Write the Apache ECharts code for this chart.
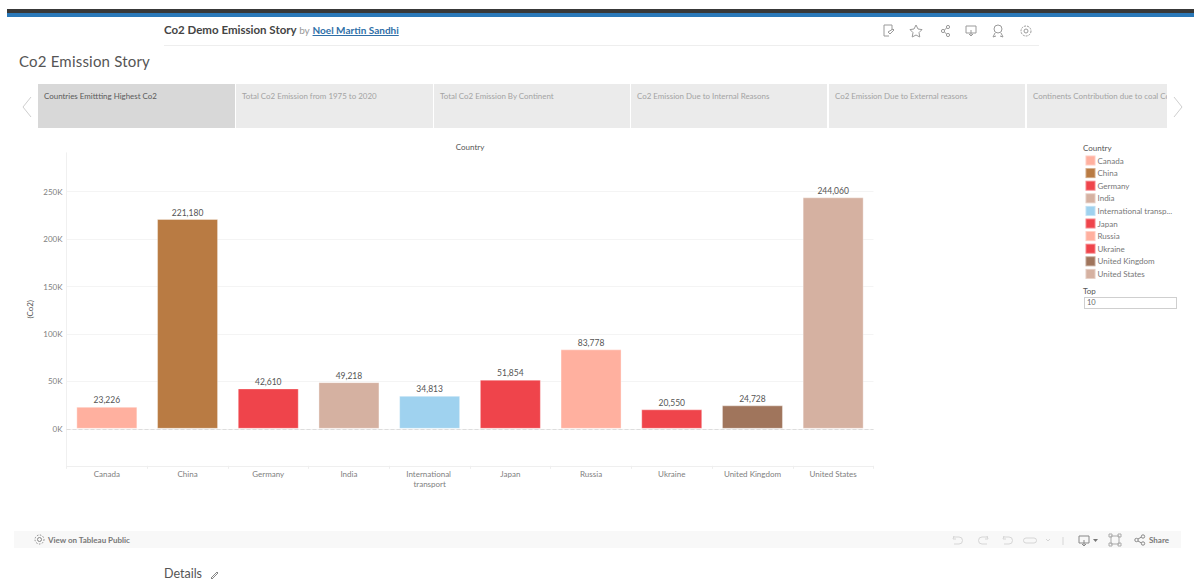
<!DOCTYPE html>
<html><head><meta charset="utf-8">
<script src="https://cdn.jsdelivr.net/npm/echarts@6/dist/echarts.min.js"></script>
<style>
html,body{margin:0;padding:0;background:#fff;width:1194px;height:581px;overflow:hidden;font-family:Lato,"Open Sans",sans-serif}
#chart{position:absolute;left:0;top:0;width:1194px;height:581px}
.a{position:absolute;white-space:nowrap}
.tab{position:absolute;top:84px;height:44px;background:#ebebeb;font-size:7.95px;color:#a3a3a3;box-sizing:border-box;padding:7px 0 0 6px;overflow:hidden;white-space:nowrap}
svg.i{position:absolute;fill:none;stroke:#9a9a9a;stroke-width:1}
</style></head><body>
<div id="chart"></div>
<div class="a" style="left:7px;top:9px;width:1187px;height:4px;background:#383838"></div>
<div class="a" style="left:7px;top:13px;width:1187px;height:4px;background:#2a78b8"></div>
<div class="a" style="left:164px;top:23px;font-size:11.5px;font-weight:700;color:#444">Co2 Demo Emission Story <span style="font-weight:400;color:#999;font-size:10px">by</span> <span style="color:#2f6fa8;text-decoration:underline;font-size:10px">Noel Martin Sandhi</span></div>
<div class="a" style="left:164px;top:45px;width:875px;height:1px;background:#eeeeee"></div>
<div class="a" style="left:19px;top:52px;font-size:15px;color:#555;letter-spacing:.2px">Co2 Emission Story</div>
<div class="tab" style="left:38px;width:197px;background:#d8d8d8;color:#5a5a5a">Countries Emittting Highest Co2</div>
<div class="tab" style="left:236px;width:197px">Total Co2 Emission from 1975 to 2020</div>
<div class="tab" style="left:434px;width:196px">Total Co2 Emission By Continent</div>
<div class="tab" style="left:631px;width:196px">Co2 Emission Due to Internal Reasons</div>
<div class="tab" style="left:829px;width:196px">Co2 Emission Due to External reasons</div>
<div class="tab" style="left:1027px;width:140px">Continents Contribution due to coal Co2 Emission</div>
<svg class="i" style="left:20px;top:95px" width="14" height="24"><path d="M11 2 L3 12 L11 22" stroke="#cfcfcf"/></svg>
<svg class="i" style="left:1171px;top:95px" width="14" height="24"><path d="M3 2 L11 12 L3 22" stroke="#cfcfcf"/></svg>
<svg class="i" style="left:880px;top:23px" width="156" height="16">
<path d="M4 2h8v5M4 2v11h5M8 9l5-3 1 1-4 4z"/>
<path d="M36 2l2 4 4 .6-3 3 .8 4.4-3.800-2-3.800 2 .8-4.400-3-3 4-.6z"/>
<circle cx="63" cy="8" r="1.600"/><circle cx="68" cy="4" r="1.600"/><circle cx="68" cy="12" r="1.600"/><path d="M64.500 7l2-2M64.500 9l2 2"/>
<path d="M86 3h10v7H86zM91 7v6M89 11l2 2 2-2"/>
<circle cx="118" cy="6" r="4"/><path d="M115 10l-2 4 3-1M121 10l2 4-3-1"/>
<circle cx="146" cy="8" r="2"/><circle cx="146" cy="8" r="5" stroke-dasharray="2 1"/>
</svg>
<div class="a" style="left:1083px;top:143px;font-size:8px;color:#555">Country</div>
<div class="a" style="left:1083px;top:286px;font-size:8px;color:#555">Top</div>
<div class="a" style="left:1084px;top:297px;width:93px;height:12px;border:1px solid #cfcfcf;box-sizing:border-box;font-size:7.500px;line-height:10px;color:#666;padding-left:2px">10</div>
<div class="a" style="left:14px;top:531px;width:1167px;height:17px;background:#f8f8f8"></div>
<svg class="i" style="left:34px;top:534px" width="11" height="11"><circle cx="5.500" cy="5.500" r="2" stroke="#888"/><circle cx="5.500" cy="5.500" r="4.500" stroke="#888" stroke-dasharray="1.500 1.500"/></svg>
<div class="a" style="left:48px;top:535px;font-size:8px;font-weight:700;color:#777">View on Tableau Public</div>
<svg class="i" style="left:950px;top:533px" width="180" height="14">
<g stroke="#d6d6d6"><path d="M4 3l-1 3 3 0M3 4h6a3.500 3.500 0 0 1 0 7H4"/><path d="M37 3l1 3-3 0M38 4h-6a3.500 3.500 0 0 0 0 7h5"/><path d="M54 3l-1 3 3 0M53 4h6a3.500 3.500 0 0 1 0 7H54"/><path d="M76 5h8a2 2 0 0 1 0 5h-8a2 2 0 0 1 0-5z"/><path d="M96 6l2 2 2-2"/><path d="M113 4v8"/></g>
<path d="M129 3h10v7h-10zM134 7v6M132 11l2 2 2-2" stroke="#888"/><path d="M143 6h5l-2.500 3z" fill="#777" stroke="none"/>
<path d="M161 3h8v8h-8zM159 1h3v3h-3zM168 1h3v3h-3zM159 10h3v3h-3zM168 10h3v3h-3z" stroke="#aaa"/>
</svg>
<svg class="i" style="left:1134px;top:534px" width="12" height="12"><g stroke="#888"><circle cx="2.500" cy="6" r="1.700"/><circle cx="9" cy="2.500" r="1.700"/><circle cx="9" cy="9.500" r="1.700"/><path d="M4 5l3.500-2M4 7l3.500 2"/></g></svg>
<div class="a" style="left:1149px;top:535px;font-size:8px;font-weight:700;color:#777">Share</div>
<div class="a" style="left:164px;top:566px;font-size:12.500px;color:#555">Details</div>
<svg class="i" style="left:209px;top:569px" width="11" height="11"><path d="M2 9l6-6 1 1-6 6z" stroke="#888"/></svg>
<script>
const categories = ["Canada","China","Germany","India","International transport","Japan","Russia","Ukraine","United Kingdom","United States"];
const co2Values = [23226,221180,42610,49218,34813,51854,83778,20550,24728,244060];
const barColors = ["#ffb09f","#b97b43","#ef444b","#d5b1a1","#9fd2ef","#ef444b","#ffb09f","#ef444b","#a0755c","#d5b1a1"];
const yTicks = [0,50000,100000,150000,200000,250000];
const chartFont = "Lato";

const chart = echarts.init(document.getElementById('chart'), null, {renderer:'svg'});
const series = categories.map((name,i)=>({
  type:'bar', name, stack:'all', barWidth:61,
  data: co2Values.map((v,j)=> j===i ? v : null),
  itemStyle:{color:barColors[i], borderColor:'rgba(255,255,255,0.35)', borderWidth:1},
  label:{show:true, position:'top', distance:2, fontSize:8.5, color:'#555', fontFamily:chartFont,
    formatter:p=>p.value==null?'':Number(p.value).toLocaleString('en-US')},
  silent:true, animation:false,
  markLine: i===0 ? {silent:true, symbol:'none', label:{show:false}, animation:false,
    lineStyle:{color:'#dddddd', type:'dashed', width:1}, data:[{yAxis:0}]} : undefined
}));
chart.setOption({
  animation:false,
  backgroundColor:'transparent',
  textStyle:{fontFamily:chartFont},
  title:{text:'Country', left:470, top:143, padding:0, textAlign:'center',
    textStyle:{fontSize:8, fontWeight:'normal', color:'#555', fontFamily:chartFont}},
  legend:{orient:'vertical', left:1084.500, top:154.500, padding:0, itemWidth:10, itemHeight:10, itemGap:0.600, icon:'rect',
    selectedMode:false, data:categories,
    textStyle:{fontSize:8, lineHeight:10, color:'#777', fontFamily:chartFont, width:80, overflow:'truncate', ellipsis:'...', padding:[0,0,0,-3]}},
  grid:{left:66.5, right:320.5, top:152.8, bottom:115.2},
  xAxis:{type:'category', data:categories,
    axisLine:{onZero:false, lineStyle:{color:'#efefef'}},
    axisTick:{show:true, length:3, lineStyle:{color:'#eeeeee'}},
    axisLabel:{fontSize:8, color:'#808080', margin:3, width:70, overflow:'break', lineHeight:10, interval:0, fontFamily:chartFont}},
  yAxis:{type:'value', min:-39000, max:291000,
    name:'(Co2)', nameLocation:'middle', nameGap:33, nameRotate:90, nameMoveOverlap:false,
    nameTextStyle:{fontSize:8, color:'#555', fontFamily:chartFont},
    axisLine:{show:true, lineStyle:{color:'#f0f0f0'}},
    axisTick:{show:false, customValues:yTicks},
    axisLabel:{fontSize:8, color:'#808080', margin:4, customValues:yTicks, fontFamily:chartFont,
      formatter:v=>(v/1000)+'K'},
    splitLine:{show:true, lineStyle:{color:'#f4f4f4'}}},
  series
});
</script>
</body></html>
